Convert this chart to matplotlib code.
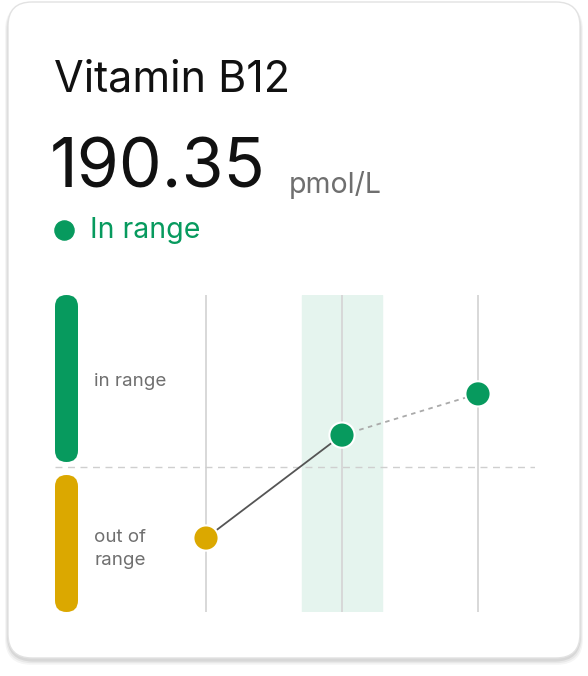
import matplotlib.pyplot as plt
from matplotlib.patches import FancyBboxPatch

plt.rcParams['font.family'] = ['Inter', 'DejaVu Sans']

title = "Vitamin B12"
value_text = "190.35"
unit = "pmol/L"
status = "In range"
readings = [54, 190.35, 245]
point_status = ["out", "in", "in"]
threshold = 148
y_low, y_high = -44, 376

GREEN = "#079a5e"
YELLOW = "#dba800"
GRAY = "#6f6f6f"

W, H = 588, 676
fig = plt.figure(figsize=(W / 100, H / 100), dpi=100)
bg = fig.add_axes([0, 0, 1, 1])
bg.set_xlim(0, W)
bg.set_ylim(H, 0)
bg.axis("off")

# card with soft shadow
for i, a in enumerate([0.04, 0.05, 0.07]):
    d = 6 - 2 * i
    bg.add_patch(FancyBboxPatch((8 - d / 2, 4), 572 + d, 656 + d * 0.8,
                                boxstyle="round,pad=0,rounding_size=26",
                                fc="black", ec="none", alpha=a))
bg.add_patch(FancyBboxPatch((8, 2), 572, 656, boxstyle="round,pad=0,rounding_size=24",
                            fc="white", ec="#e2e2e2", lw=1))

bg.text(54, 80, title, fontsize=31, va="center", color="#111111")
bg.text(50, 170, value_text, fontsize=49, va="center", color="#111111")
bg.text(289, 185, unit, fontsize=20.5, va="center", color=GRAY)
bg.scatter([64], [230], s=190, color=GREEN, zorder=3)
bg.text(90, 230, status, fontsize=20.5, va="center", color=GREEN)

# range pills
bg.add_patch(FancyBboxPatch((55, 295), 23, 167, boxstyle="round,pad=0,rounding_size=11.5",
                            fc=GREEN, ec="none"))
bg.add_patch(FancyBboxPatch((55, 475), 23, 137, boxstyle="round,pad=0,rounding_size=11.5",
                            fc=YELLOW, ec="none"))
bg.text(94, 382, "in range", fontsize=13.5, va="center", color=GRAY)
bg.text(94, 549, "out of\nrange", fontsize=13.5, va="center", color=GRAY, linespacing=1.45)

# data axes
x0, x1, yt, yb = 55, 535, 295, 612
ax = fig.add_axes([x0 / W, 1 - yb / H, (x1 - x0) / W, (yb - yt) / H])
ax.patch.set_alpha(0)
ax.axis("off")
xs = list(range(len(readings)))
ax.set_xlim((55 - 206) / 136, (535 - 206) / 136)
ax.set_ylim(y_low, y_high)
ax.axvspan(1 - 40 / 136, 1 + 40 / 136, color="#e5f4ee", zorder=0)
for x in xs:
    ax.axvline(x, color="#d6d6d6", lw=1.3, zorder=1)
ax.axhline(threshold, color="#cfcfcf", lw=1, ls=(0, (5, 4)), zorder=1)
ax.plot(xs[:2], readings[:2], color="#555555", lw=1.3, zorder=2)
ax.plot(xs[1:], readings[1:], color="#aaaaaa", lw=1.3, ls=(0, (2.5, 2.5)), zorder=2)
cols = [GREEN if s == "in" else YELLOW for s in point_status]
ax.scatter(xs, readings, s=330, c=cols, edgecolors="white", linewidths=1.5, zorder=3,
           clip_on=False)

fig.savefig("out.png", dpi=100)
